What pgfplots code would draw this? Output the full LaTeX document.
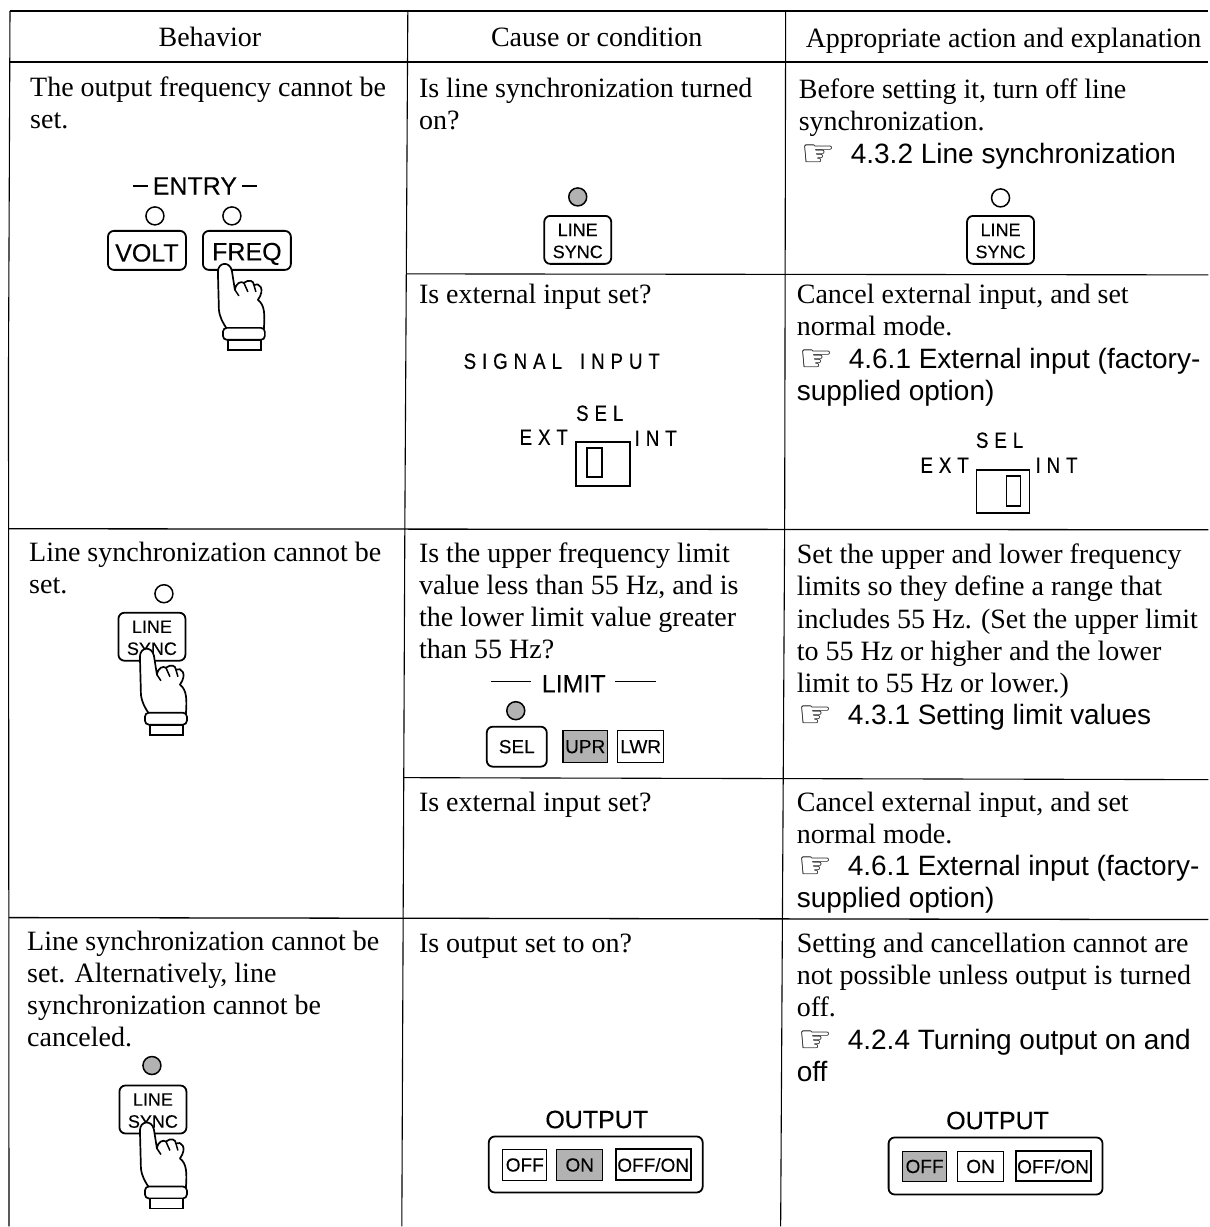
\documentclass[border=0pt]{standalone}
\usepackage{pgfplots}
\usepackage{fontspec}
\pgfplotsset{compat=1.18}
\setmainfont{Liberation Serif}
\setsansfont{Liberation Sans}
\newfontfamily\lblf[FakeBold=0.2]{Liberation Sans}
\newfontfamily\symf{DejaVu Sans}
\newfontfamily\spf[FakeStretch=0.85,LetterSpace=27,FakeBold=0.4]{Liberation Sans}
\definecolor{dith}{gray}{0.70}
% serif body line
\newcommand\TL[3]{\node[anchor=base west,inner sep=0pt] at (axis cs:#1,{#2+1}) {\fontsize{28}{30}\selectfont #3};}
\newcommand\CL[3]{\node[anchor=base,inner sep=0pt] at (axis cs:#1,{#2+1}) {\fontsize{28}{30}\selectfont #3};}
% sans line
\newcommand\SfL[3]{\node[anchor=base west,inner sep=0pt] at (axis cs:#1,#2) {\fontsize{28}{30}\selectfont\sffamily #3};}
% reference: glyph x, text x, baseline, text
\newcommand\RfL[4]{\node[anchor=base west,inner sep=0pt] at (axis cs:#1+2,{#3+3}) {\fontsize{38}{38}\selectfont\symf ☞};\SfL{#2}{#3}{#4}}
% centred sans
\newcommand\SCn[4]{\node[inner sep=0pt] at (axis cs:{#1},{#2}) {\fontsize{#3}{#3}\selectfont\lblf #4};}
\newcommand\SPc[4]{\node[anchor=base,inner sep=0pt] at (axis cs:#1,#2) {\fontsize{#3}{#3}\selectfont\spf #4};}
\newcommand\Lamp[3]{\draw[line width=1.5pt,fill=#3] (axis cs:#1,#2) circle[radius=9];}
\newcommand\KeyB[4]{\draw[line width=1.8pt,rounded corners=6pt] (axis cs:{#1},{#2}) rectangle (axis cs:{#3},{#4});}
\newcommand\LSk[2]{% x centre, y top of box
\KeyB{#1-33.5}{#2}{#1+33.5}{#2+48}\SCn{#1}{#2+14}{18}{LINE}\SCn{#1}{#2+36}{18}{SYNC}}
\newcommand\Hand[2]{%
\draw[line width=1.7pt,fill=white,line join=round]
 ({#1-6},{#2+47}) -- ({#1-7},{#2+9}) .. controls ({#1-7},{#2-1}) and ({#1+5},{#2-2}) .. ({#1+7},{#2+8})
 -- ({#1+10},{#2+27}) .. controls ({#1+11},{#2+20}) and ({#1+16},{#2+18}) .. ({#1+19},{#2+20})
 .. controls ({#1+24},{#2+16}) and ({#1+29},{#2+18}) .. ({#1+29},{#2+22})
 .. controls ({#1+34},{#2+19}) and ({#1+41},{#2+26}) .. ({#1+33},{#2+37})
 .. controls ({#1+40},{#2+42}) and ({#1+40},{#2+52}) .. ({#1+39},{#2+66})
 -- ({#1+2},{#2+66}) .. controls ({#1-2},{#2+60}) and ({#1-5},{#2+55}) .. ({#1-6},{#2+47}) -- cycle;
\draw[line width=1.5pt] ({#1+10},{#2+27}) -- ({#1+14},{#2+33}) ({#1+19},{#2+20}) -- ({#1+23},{#2+29}) ({#1+29},{#2+22}) -- ({#1+31},{#2+29});
\draw[line width=1.7pt,fill=white,rounded corners=4pt] ({#1-2},{#2+65}) rectangle ({#1+40},{#2+77});
\draw[line width=1.7pt,fill=white] ({#1+3},{#2+77}) rectangle ({#1+36},{#2+87});}
\newcommand\Btn[7]{% x0 y0 x1 y1 lw fill text
\draw[line width=#5,fill=#6] (axis cs:#1,#2) rectangle (axis cs:#3,#4);
\SCn{(#1+#3)/2}{(#2+#4)/2}{19}{#7}}
\begin{document}
\begin{tikzpicture}
\begin{axis}[
  scale only axis, width=1209pt, height=1227pt,
  xmin=0, xmax=1209, ymin=0, ymax=1227, y dir=reverse,
  hide axis, clip=false]
% table rules
\addplot[black,line width=1.1pt] coordinates {(10,11) (1209,11)};
\addplot[black,line width=1.8pt] coordinates {(10,62) (1209,62)};
\addplot[black,line width=1.1pt] coordinates {(10,11) (8.5,370) (9,1227)};
\addplot[black,line width=1.1pt] coordinates {(408,11) (405,530) (402,1227)};
\addplot[black,line width=1.1pt] coordinates {(786,11) (785,530) (781,1227)};
\addplot[black,line width=1.1pt] coordinates {(407,274) (1209,275)};
\addplot[black,line width=1.3pt] coordinates {(9,529) (1209,530)};
\addplot[black,line width=1.1pt] coordinates {(404,778) (1209,780)};
\addplot[black,line width=1.3pt] coordinates {(9,918) (1209,920)};
% corners that fix the picture's extent
\path (axis cs:0,0) rectangle (axis cs:1209,1227);
% header
\CL{210}{46}{Behavior}
\CL{597}{46}{Cause or condition}
\CL{1004}{47}{Appropriate action and explanation}
% column 1
\TL{30}{96}{The output frequency cannot be}
\TL{30}{128}{set.}
\SCn{195}{186}{25}{ENTRY}
\addplot[black,line width=1.6pt] coordinates {(133,186) (148,186)};
\addplot[black,line width=1.6pt] coordinates {(242,186) (257,186)};
\Lamp{155}{216}{white}
\Lamp{232}{216}{white}
\KeyB{108}{231}{186}{270}
\SCn{147}{253}{25}{VOLT}
\KeyB{203}{231}{291}{270}
\SCn{247}{254}{25}{FREQ}
\Hand{225}{263}
\TL{29}{561}{Line synchronization cannot be}
\TL{29}{593}{set.}
\Lamp{164}{594}{white}
\LSk{152}{613}
\Hand{147}{648}
\TL{27}{950}{Line synchronization cannot be}
\TL{27}{982}{set. Alternatively, line}
\TL{27}{1014}{synchronization cannot be}
\TL{27}{1046}{canceled.}
\Lamp{152}{1066}{dith}
\LSk{153}{1086}
\Hand{147}{1122}
% column 2
\TL{419}{97}{Is line synchronization turned}
\TL{419}{129}{on?}
\Lamp{578}{197}{dith}
\LSk{578}{216}
\TL{419}{303}{Is external input set?}
\SPc{562}{369}{22}{SIGNAL\hspace{7pt} INPUT}
\SPc{600}{421}{22}{SEL}
\SPc{544}{445}{22}{EXT}
\SPc{656}{446}{22}{INT}
\draw[line width=1.8pt] (axis cs:576,442) rectangle (axis cs:630,486);
\draw[line width=1.8pt] (axis cs:587,448) rectangle (axis cs:602,477);
\TL{419}{562}{Is the upper frequency limit}
\TL{419}{594}{value less than 55 Hz, and is}
\TL{419}{626}{the lower limit value greater}
\TL{419}{658}{than 55 Hz?}
\SCn{574}{684}{25}{LIMIT}
\addplot[black,line width=1.2pt] coordinates {(491,682) (531,682)};
\addplot[black,line width=1.2pt] coordinates {(615,682) (656,682)};
\Lamp{516}{711}{dith}
\KeyB{487}{727}{547}{767}
\SCn{517}{747}{19}{SEL}
\Btn{563}{731}{608}{763}{1.5pt}{dith}{UPR}
\Btn{618}{731}{664}{763}{1.5pt}{white}{LWR}
\TL{419}{811}{Is external input set?}
\TL{419}{952}{Is output set to on?}
\SCn{597}{1120}{25}{OUTPUT}
\KeyB{489}{1137}{703}{1193}
\Btn{503}{1150}{547}{1181}{1.4pt}{white}{OFF}
\Btn{557}{1150}{603}{1181}{1.4pt}{dith}{ON}
\Btn{616}{1150}{691}{1181}{2pt}{white}{OFF/ON}
% column 3
\TL{799}{98}{Before setting it, turn off line}
\TL{799}{130}{synchronization.}
\RfL{800}{851}{164}{4.3.2 Line synchronization}
\Lamp{1001}{198}{white}
\LSk{1001}{216}
\TL{797}{303}{Cancel external input, and set}
\TL{797}{335}{normal mode.}
\RfL{798}{849}{369}{4.6.1 External input (factory-}
\SfL{797}{401}{supplied option)}
\SPc{1000}{448}{22}{SEL}
\SPc{945}{473}{22}{EXT}
\SPc{1057}{473}{22}{INT}
\draw[line width=1.8pt] (axis cs:977,470) rectangle (axis cs:1030,513);
\draw[line width=1.8pt] (axis cs:1007,476) rectangle (axis cs:1021,506);
\TL{797}{563}{Set the upper and lower frequency}
\TL{797}{595}{limits so they define a range that}
\TL{797}{628}{includes 55 Hz. (Set the upper limit}
\TL{797}{660}{to 55 Hz or higher and the lower}
\TL{797}{692}{limit to 55 Hz or lower.)}
\RfL{797}{848}{725}{4.3.1 Setting limit values}
\TL{797}{811}{Cancel external input, and set}
\TL{797}{843}{normal mode.}
\RfL{797}{848}{876}{4.6.1 External input (factory-}
\SfL{797}{908}{supplied option)}
\TL{797}{952}{Setting and cancellation cannot are}
\TL{797}{984}{not possible unless output is turned}
\TL{797}{1016}{off.}
\RfL{797}{848}{1050}{4.2.4 Turning output on and}
\SfL{797}{1082}{off}
\SCn{998}{1121}{25}{OUTPUT}
\KeyB{889}{1138}{1103}{1195}
\Btn{903}{1152}{947}{1182}{1.4pt}{dith}{OFF}
\Btn{958}{1152}{1004}{1182}{1.4pt}{white}{ON}
\Btn{1016}{1152}{1091}{1182}{2pt}{white}{OFF/ON}
\end{axis}
\end{tikzpicture}
\end{document}
